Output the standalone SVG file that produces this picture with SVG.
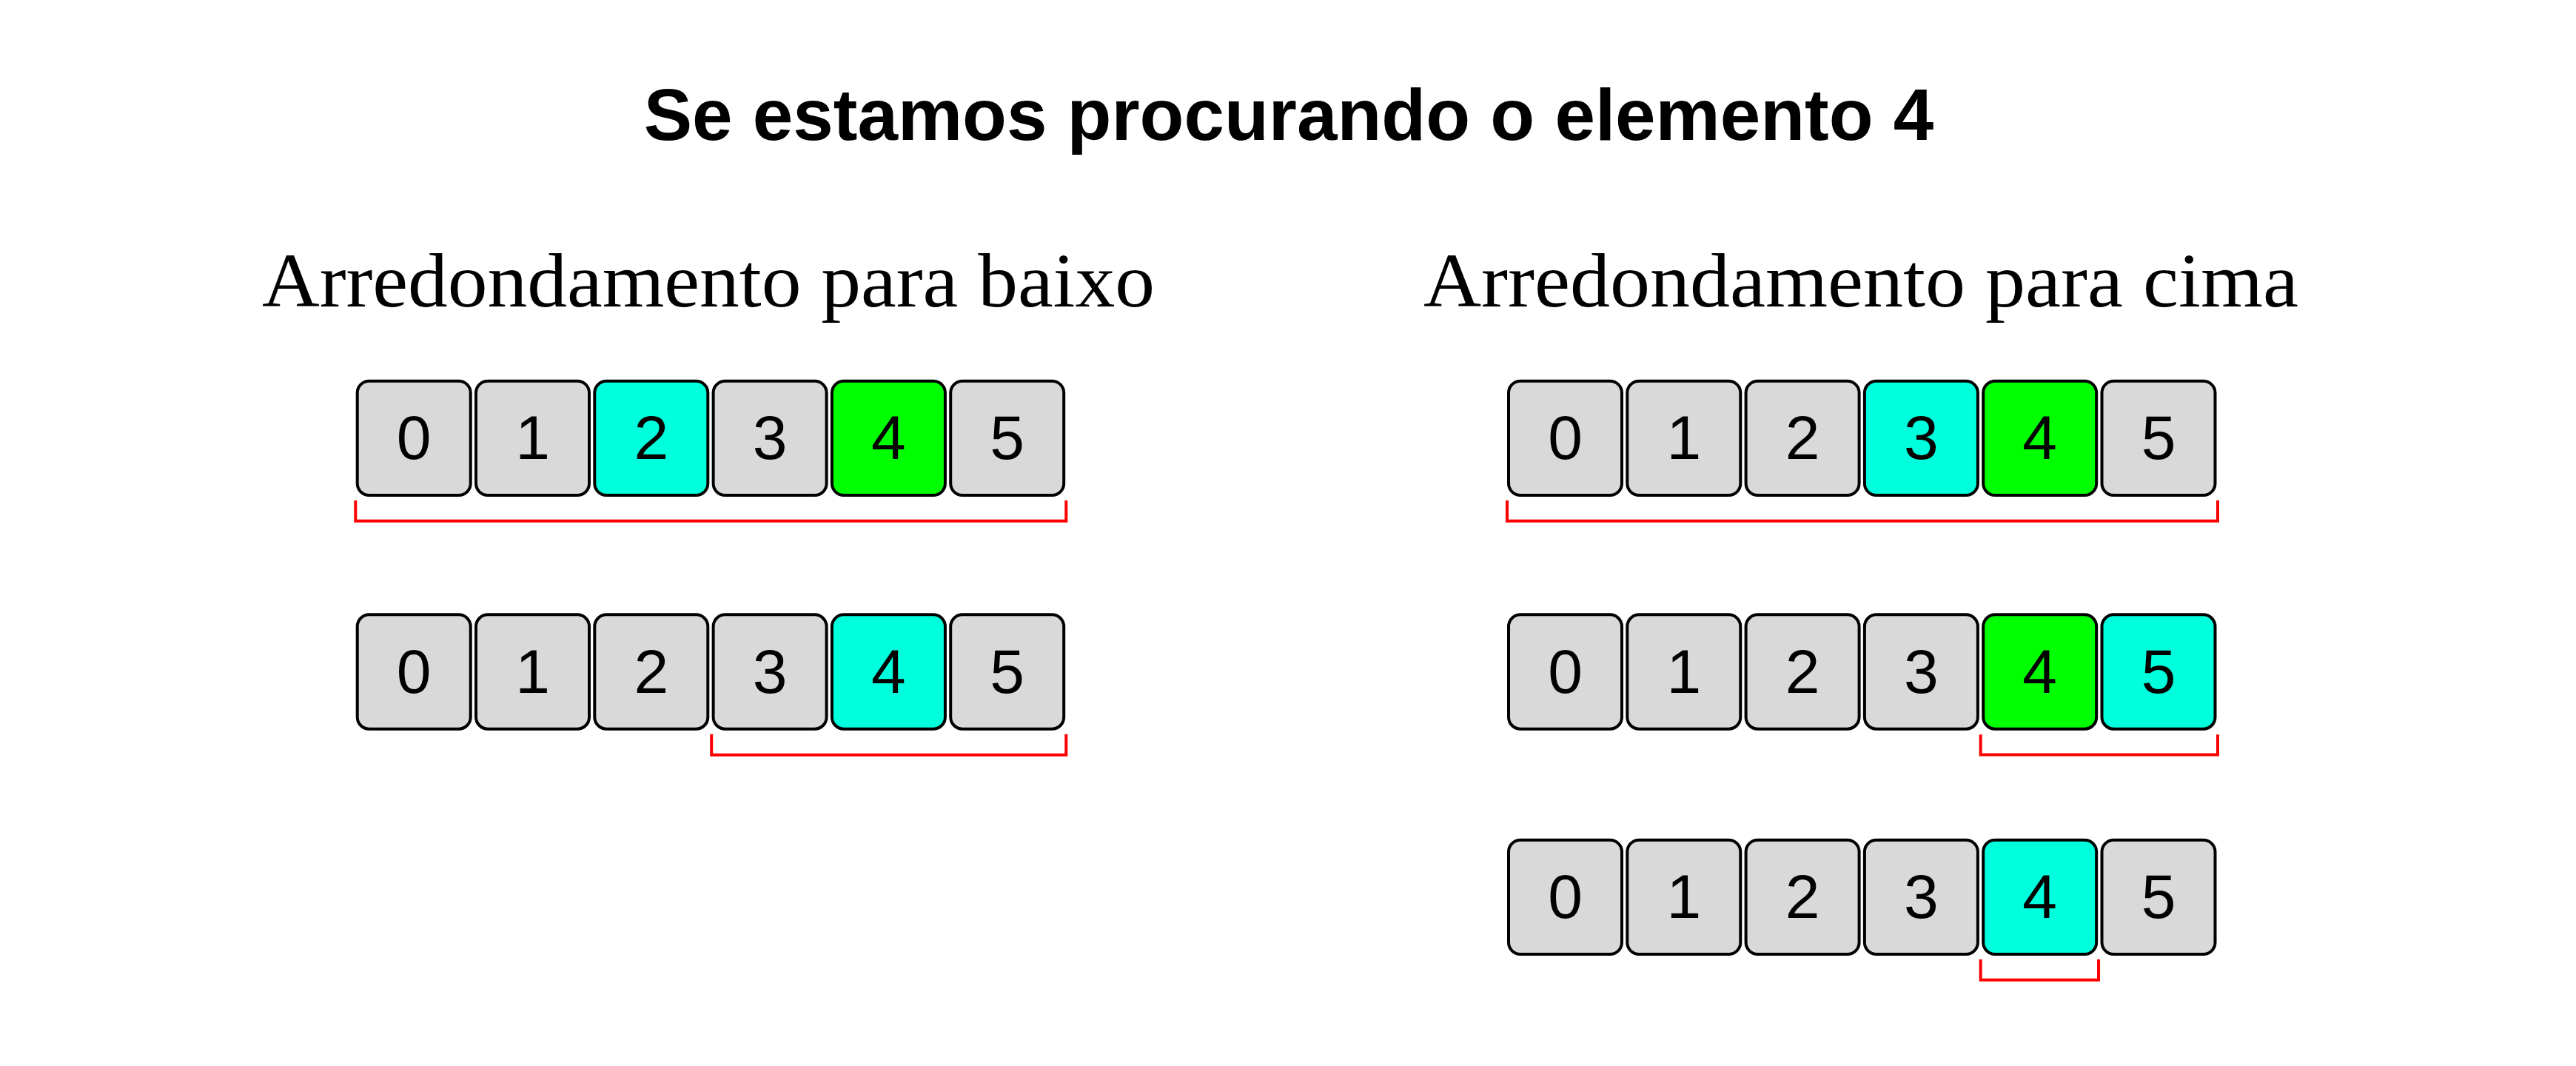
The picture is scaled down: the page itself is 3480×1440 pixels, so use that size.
<svg xmlns="http://www.w3.org/2000/svg" width="3480" height="1440" viewBox="0 0 3480 1440">
<style>
.b{stroke:#000;stroke-width:4;fill:#D9D9D9}
.c{fill:#00FFDD}
.g{fill:#00FF00}
.d{font-family:"Liberation Sans",Arial,sans-serif;font-size:84px;text-anchor:middle;fill:#000}
.t{font-family:"Liberation Sans",Arial,sans-serif;font-weight:bold;font-size:98px;text-anchor:middle;fill:#000}
.s{font-family:"Liberation Serif","Times New Roman",serif;font-size:104px;text-anchor:middle;fill:#000}
.br{fill:none;stroke:#FF0000;stroke-width:4}
</style>
<rect width="3480" height="1440" fill="#FFFFFF"/>
<g id="title"><text class="t" x="1741" y="189">Se estamos procurando o elemento 4</text></g>
<g id="subtitle-left"><text class="s" x="957" y="414" textLength="1206" lengthAdjust="spacingAndGlyphs">Arredondamento para baixo</text></g>
<g id="subtitle-right"><text class="s" x="2514" y="414" textLength="1182" lengthAdjust="spacingAndGlyphs">Arredondamento para cima</text></g>

<!-- Left row 1 -->
<g id="L1-0"><rect class="b" x="482.7" y="514.7" width="153" height="154.3" rx="16"/><text class="d" x="559.2" y="620.3">0</text></g>
<g id="L1-1"><rect class="b" x="643" y="514.7" width="153" height="154.3" rx="16"/><text class="d" x="719.5" y="620.3">1</text></g>
<g id="L1-2"><rect class="b c" x="803.3" y="514.7" width="153" height="154.3" rx="16"/><text class="d" x="879.8" y="620.3">2</text></g>
<g id="L1-3"><rect class="b" x="963.6" y="514.7" width="153" height="154.3" rx="16"/><text class="d" x="1040.1" y="620.3">3</text></g>
<g id="L1-4"><rect class="b g" x="1123.9" y="514.7" width="153" height="154.3" rx="16"/><text class="d" x="1200.4" y="620.3">4</text></g>
<g id="L1-5"><rect class="b" x="1284.2" y="514.7" width="153" height="154.3" rx="16"/><text class="d" x="1360.7" y="620.3">5</text></g>

<!-- Left row 2 -->
<g id="L2-0"><rect class="b" x="482.7" y="830.3" width="153" height="154.4" rx="16"/><text class="d" x="559.2" y="935.9">0</text></g>
<g id="L2-1"><rect class="b" x="643" y="830.3" width="153" height="154.4" rx="16"/><text class="d" x="719.5" y="935.9">1</text></g>
<g id="L2-2"><rect class="b" x="803.3" y="830.3" width="153" height="154.4" rx="16"/><text class="d" x="879.8" y="935.9">2</text></g>
<g id="L2-3"><rect class="b" x="963.6" y="830.3" width="153" height="154.4" rx="16"/><text class="d" x="1040.1" y="935.9">3</text></g>
<g id="L2-4"><rect class="b c" x="1123.9" y="830.3" width="153" height="154.4" rx="16"/><text class="d" x="1200.4" y="935.9">4</text></g>
<g id="L2-5"><rect class="b" x="1284.2" y="830.3" width="153" height="154.4" rx="16"/><text class="d" x="1360.7" y="935.9">5</text></g>

<!-- Right row 1 -->
<g id="R1-0"><rect class="b" x="2038" y="514.7" width="153" height="154.3" rx="16"/><text class="d" x="2114.5" y="620.3">0</text></g>
<g id="R1-1"><rect class="b" x="2198.3" y="514.7" width="153" height="154.3" rx="16"/><text class="d" x="2274.8" y="620.3">1</text></g>
<g id="R1-2"><rect class="b" x="2358.6" y="514.7" width="153" height="154.3" rx="16"/><text class="d" x="2435.1" y="620.3">2</text></g>
<g id="R1-3"><rect class="b c" x="2518.9" y="514.7" width="153" height="154.3" rx="16"/><text class="d" x="2595.4" y="620.3">3</text></g>
<g id="R1-4"><rect class="b g" x="2679.2" y="514.7" width="153" height="154.3" rx="16"/><text class="d" x="2755.7" y="620.3">4</text></g>
<g id="R1-5"><rect class="b" x="2839.5" y="514.7" width="153" height="154.3" rx="16"/><text class="d" x="2916" y="620.3">5</text></g>

<!-- Right row 2 -->
<g id="R2-0"><rect class="b" x="2038" y="830.3" width="153" height="154.4" rx="16"/><text class="d" x="2114.5" y="935.9">0</text></g>
<g id="R2-1"><rect class="b" x="2198.3" y="830.3" width="153" height="154.4" rx="16"/><text class="d" x="2274.8" y="935.9">1</text></g>
<g id="R2-2"><rect class="b" x="2358.6" y="830.3" width="153" height="154.4" rx="16"/><text class="d" x="2435.1" y="935.9">2</text></g>
<g id="R2-3"><rect class="b" x="2518.9" y="830.3" width="153" height="154.4" rx="16"/><text class="d" x="2595.4" y="935.9">3</text></g>
<g id="R2-4"><rect class="b g" x="2679.2" y="830.3" width="153" height="154.4" rx="16"/><text class="d" x="2755.7" y="935.9">4</text></g>
<g id="R2-5"><rect class="b c" x="2839.5" y="830.3" width="153" height="154.4" rx="16"/><text class="d" x="2916" y="935.9">5</text></g>

<!-- Right row 3 -->
<g id="R3-0"><rect class="b" x="2038" y="1134.7" width="153" height="154.3" rx="16"/><text class="d" x="2114.5" y="1240.3">0</text></g>
<g id="R3-1"><rect class="b" x="2198.3" y="1134.7" width="153" height="154.3" rx="16"/><text class="d" x="2274.8" y="1240.3">1</text></g>
<g id="R3-2"><rect class="b" x="2358.6" y="1134.7" width="153" height="154.3" rx="16"/><text class="d" x="2435.1" y="1240.3">2</text></g>
<g id="R3-3"><rect class="b" x="2518.9" y="1134.7" width="153" height="154.3" rx="16"/><text class="d" x="2595.4" y="1240.3">3</text></g>
<g id="R3-4"><rect class="b c" x="2679.2" y="1134.7" width="153" height="154.3" rx="16"/><text class="d" x="2755.7" y="1240.3">4</text></g>
<g id="R3-5"><rect class="b" x="2839.5" y="1134.7" width="153" height="154.3" rx="16"/><text class="d" x="2916" y="1240.3">5</text></g>

<g id="connectors">
<path class="br" d="M480.3,676 V703.8 H1440.3 V676"/>
<path class="br" d="M961.2,991.7 V1019.7 H1440.3 V991.7"/>
<path class="br" d="M2036,676 V703.7 H2996 V676"/>
<path class="br" d="M2675.7,992.3 V1019.5 H2996 V992.3"/>
<path class="br" d="M2675.7,1296 V1323.7 H2835 V1296"/>
</g>
</svg>
